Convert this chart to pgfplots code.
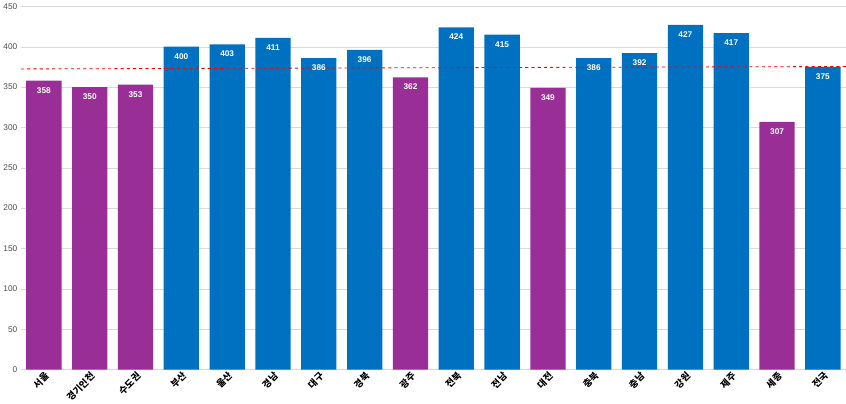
\documentclass[border=0pt]{standalone}
\usepackage{pgfplots}
\pgfplotsset{compat=1.18}
\usepackage{fontspec}
\setmainfont{Liberation Sans}
\newfontfamily\cjk{Noto Sans CJK KR}
\definecolor{bblue}{HTML}{0070C0}
\definecolor{bpur}{HTML}{992E96}
\begin{document}
\begin{tikzpicture}
\begin{axis}[
  scale only axis, width=795pt, height=350pt,
  xmin=-0.5, xmax=17.5, ymin=0, ymax=450,
  ytick={0,50,...,450},
  xtick={0,...,17},
  xticklabels={서울,경기인천,수도권,부산,울산,경남,대구,경북,광주,전북,전남,대전,충북,충남,강원,제주,세종,전국},
  xticklabel style={font=\cjk\bfseries\fontsize{9}{10}\selectfont, rotate=45, anchor=north east, inner sep=1pt},
  yticklabel style={font=\fontsize{8}{9}\selectfont, text=black!70},
  /pgf/number format/assume math mode=true,
  axis line style={draw=none},
  ymajorgrids, grid style={black!15},
  major tick length=0pt,
]
\addplot[ybar, bar width=34pt, bar shift=0pt, fill=bpur, draw=none,
  nodes near coords, every node near coord/.append style={font=\bfseries\fontsize{8}{9}\selectfont, color=white, anchor=north, yshift=-3pt}]
  coordinates {(0,358)(1,350)(2,353)(8,362)(11,349)(16,307)};
\addplot[ybar, bar width=34pt, bar shift=0pt, fill=bblue, draw=none,
  nodes near coords, every node near coord/.append style={font=\bfseries\fontsize{8}{9}\selectfont, color=white, anchor=north, yshift=-3pt}]
  coordinates {(3,400)(4,403)(5,411)(6,386)(7,396)(9,424)(10,415)(12,386)(13,392)(14,427)(15,417)(17,375)};
\addplot[sharp plot, color=red, dashed, thick, mark=none] coordinates {(-0.5,372.5)(17.5,375.5)};
\end{axis}
\end{tikzpicture}
\end{document}
